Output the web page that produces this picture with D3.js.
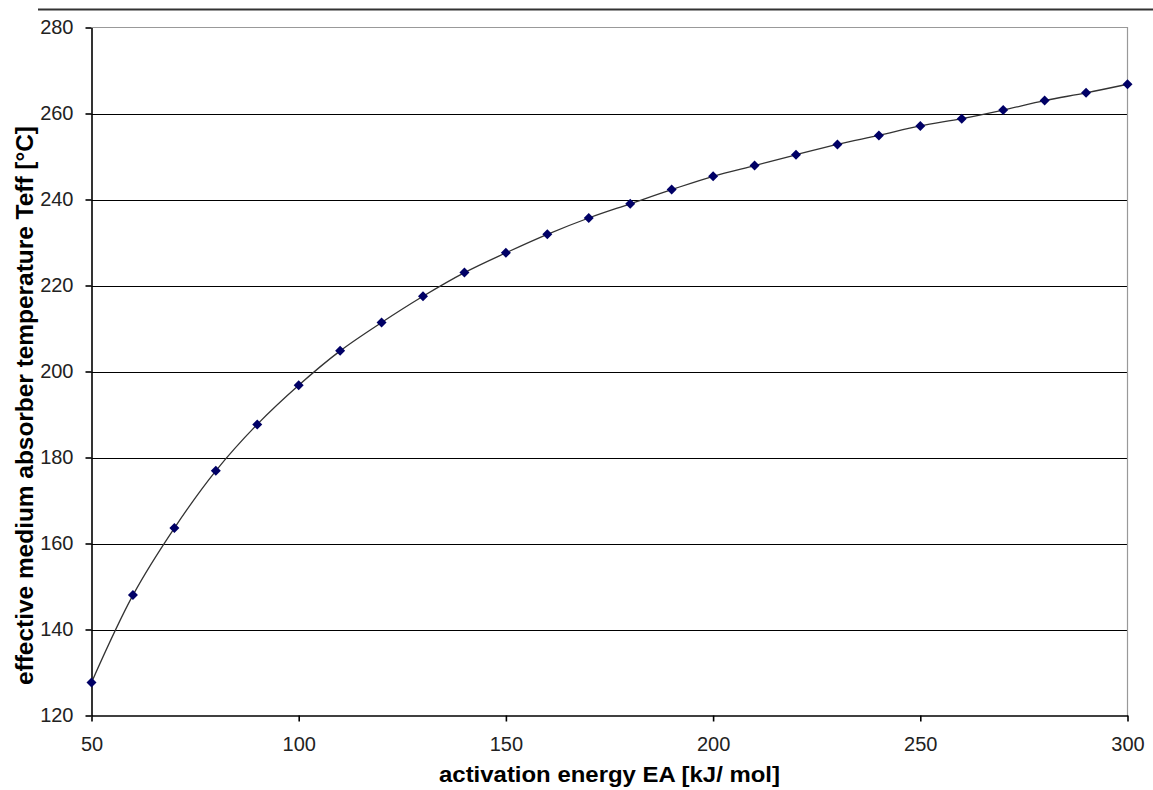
<!DOCTYPE html>
<html><head><meta charset="utf-8">
<script src="https://cdn.jsdelivr.net/npm/d3@7"></script>
<style>body{margin:0;background:#fff}svg{display:block}</style>
</head><body>
<svg id="c" width="1153" height="790"></svg>
<script>
const energy = [50,60,70,80,90,100,110,120,130,140,150,160,170,180,190,200,210,220,230,240,250,260,270,280,290,300];
const teff = [127.7,148.0,163.6,176.9,187.7,196.8,204.8,211.4,217.5,223.0,227.6,231.9,235.7,239.0,242.3,245.4,247.9,250.4,252.8,254.9,257.1,258.8,260.8,263.0,264.8,266.8];
const xTicks = [50,100,150,200,250,300];
const yTicks = [120,140,160,180,200,220,240,260,280];
const xTitle = "activation energy EA [kJ/ mol]";
const yTitle = "effective medium absorber temperature Teff [°C]";

const svg = d3.select("#c");
const L = 91.5, R = 1127.5, T = 27.5, B = 715.5;
const x = d3.scaleLinear().domain([50,300]).range([L,R]);
const y = d3.scaleLinear().domain([120,280]).range([B,T]);
const font = "'Liberation Sans', Arial, sans-serif";

// top rule
svg.append("line").attr("x1",38).attr("x2",1153).attr("y1",9.5).attr("y2",9.5)
  .attr("stroke","#333").attr("stroke-width",2);

// gridlines
svg.append("g").selectAll("line").data(yTicks.filter(d=>d>120 && d<280)).join("line")
  .attr("x1",L).attr("x2",R).attr("y1",d=>Math.round(y(d))+0.5).attr("y2",d=>Math.round(y(d))+0.5)
  .attr("stroke","#000").attr("stroke-width",1.2);
// plot border top/right gray
svg.append("path").attr("d",`M${L},${T}H${R}V${B}`).attr("fill","none").attr("stroke","#999").attr("stroke-width",1.2);

// axes
const yAxis = d3.axisLeft(y).tickValues(yTicks).tickSize(6).tickPadding(12).tickSizeOuter(0);
const gy = svg.append("g").attr("transform",`translate(${L},0)`).call(yAxis);
const xAxis = d3.axisBottom(x).tickValues(xTicks).tickSize(6).tickPadding(15).tickSizeOuter(0);
const gx = svg.append("g").attr("transform",`translate(0,${B})`).call(xAxis);
[gy,gx].forEach(g=>{
  g.select(".domain").attr("stroke","#000").attr("stroke-width",1.6);
  g.selectAll(".tick line").attr("stroke","#000").attr("stroke-width",1.6);
  g.selectAll("text").attr("font-family",font).attr("font-size",20).attr("fill","#222");
});

// line
svg.append("path").datum(energy.map((e,i)=>[e,teff[i]]))
  .attr("d",d3.line().x(d=>x(d[0])).y(d=>y(d[1])).curve(d3.curveCatmullRom))
  .attr("fill","none").attr("stroke","#333").attr("stroke-width",1.3);

// markers
svg.append("g").selectAll("path").data(energy.map((e,i)=>[e,teff[i]])).join("path")
  .attr("transform",d=>`translate(${x(d[0])},${y(d[1])})`)
  .attr("d","M0,-5L5,0L0,5L-5,0Z").attr("fill","#000066");

// titles
svg.append("text").attr("x",609.5).attr("y",782).attr("text-anchor","middle")
  .attr("font-family",font).attr("font-weight","bold").attr("font-size",22)
  .attr("textLength",341).attr("lengthAdjust","spacingAndGlyphs").text(xTitle);
svg.append("text").attr("transform",`translate(33,405.5) rotate(-90)`).attr("text-anchor","middle")
  .attr("font-family",font).attr("font-weight","bold").attr("font-size",23)
  .attr("textLength",559).attr("lengthAdjust","spacingAndGlyphs").text(yTitle);
</script>
</body></html>
